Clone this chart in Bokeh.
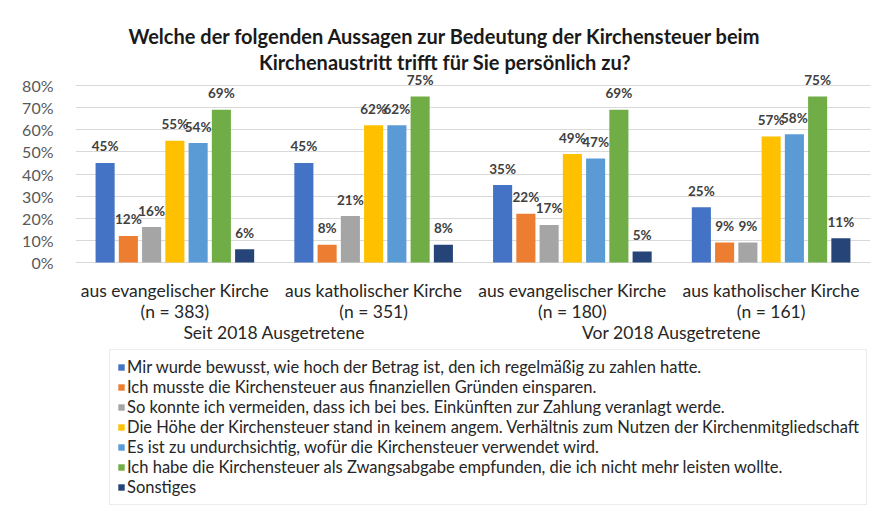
from bokeh.plotting import figure
from bokeh.models import (Range1d, ColumnDataSource, Label, Legend, LegendItem,
                          FixedTicker, PrintfTickFormatter)
from bokeh.core.properties import value
from bokeh.embed import file_html
from bokeh.resources import INLINE

# ---------------- data ----------------
categories = ["aus evangelischer Kirche", "aus katholischer Kirche",
              "aus evangelischer Kirche", "aus katholischer Kirche"]
n_labels = ["(n = 383)", "(n = 351)", "(n = 180)", "(n = 161)"]
groups = ["Seit 2018 Ausgetretene", "Vor 2018 Ausgetretene"]
series_names = [
    "Mir wurde bewusst, wie hoch der Betrag ist, den ich regelmäßig zu zahlen hatte.",
    "Ich musste die Kirchensteuer aus finanziellen Gründen einsparen.",
    "So konnte ich vermeiden, dass ich bei bes. Einkünften zur Zahlung veranlagt werde.",
    "Die Höhe der Kirchensteuer stand in keinem angem. Verhältnis zum Nutzen der Kirchenmitgliedschaft",
    "Es ist zu undurchsichtig, wofür die Kirchensteuer verwendet wird.",
    "Ich habe die Kirchensteuer als Zwangsabgabe empfunden, die ich nicht mehr leisten wollte.",
    "Sonstiges",
]
betrag = [45, 45, 35, 25]
finanziell = [12, 8, 22, 9]
einkuenfte = [16, 21, 17, 9]
verhaeltnis = [55, 62, 49, 57]
undurchsichtig = [54, 62, 47, 58]
zwangsabgabe = [69, 75, 69, 75]
sonstiges = [6, 8, 5, 11]
series_values = [betrag, finanziell, einkuenfte, verhaeltnis,
                 undurchsichtig, zwangsabgabe, sonstiges]
y_ticks = [0, 10, 20, 30, 40, 50, 60, 70, 80]

colors = ["#4472C4", "#ED7D31", "#A5A5A5", "#FFC000", "#5B9BD5", "#70AD47", "#264478"]

FONT = "Lato"

# ---------------- geometry ----------------
W, H = 873, 508
LEFT = 75            # frame left edge (px)
RIGHT = 870          # frame right edge (px)
Y0_PX = 262          # pixel row of 0 %
Y80_PX = 85          # pixel row of 80 %
PPU = (Y0_PX - Y80_PX) / 80.0   # pixels per percent
XPU = (RIGHT - LEFT) / 4.0      # pixels per category

y_start = -(H - Y0_PX) / PPU
y_end = 80 + Y80_PX / PPU

p = figure(width=W, height=H, output_backend="svg", toolbar_location=None,
           x_range=Range1d(0, 4), y_range=Range1d(y_start, y_end),
           min_border_left=LEFT, min_border_right=W - RIGHT, min_border_top=0,
           min_border_bottom=0)
p.outline_line_color = None
p.xaxis.visible = False
p.xgrid.visible = False
p.ygrid.grid_line_color = "#D9D9D9"
p.ygrid.grid_line_width = 1
p.yaxis.ticker = FixedTicker(ticks=y_ticks)
p.yaxis.formatter = PrintfTickFormatter(format="%d%%")
p.yaxis.axis_line_color = None
p.yaxis.major_tick_line_color = None
p.yaxis.minor_tick_line_color = None
p.yaxis.major_label_standoff = 16
p.yaxis.major_label_text_font = FONT
p.yaxis.major_label_text_font_size = "16px"
p.yaxis.major_label_text_color = "#595959"

step = 0.117
bw = 0.096
centers = [i + 0.5 for i in range(len(categories))]

items = []
for k, (vals, col, name) in enumerate(zip(series_values, colors, series_names)):
    xs = [c + (k - 3) * step for c in centers]
    src = ColumnDataSource(dict(x=xs, top=vals, lab=[f"{v}%" for v in vals]))
    r = p.vbar(x="x", top="top", width=bw, source=src, fill_color=col, line_color=None)
    p.text(x="x", y="top", text="lab", source=src, text_align="center",
           text_baseline="middle", y_offset=-16.5, text_font=value(FONT),
           text_font_style="bold", text_font_size="13.5px", text_color="#404040")
    items.append(LegendItem(label=name, renderers=[r]))

# helpers: convert pixel positions to data units
def dx(px):
    return (px - LEFT) / XPU

def dy(py):
    return (Y0_PX - py) / PPU

# title
for txt, py in [("Welche der folgenden Aussagen zur Bedeutung der Kirchensteuer  beim", 35),
                ("Kirchenaustritt  trifft für Sie persönlich zu?", 61)]:
    p.add_layout(Label(x=dx(447), y=dy(py), text=txt, text_align="center",
                       text_baseline="middle", text_font=FONT, text_font_style="bold",
                       text_font_size="20px", text_color="#1a1a1a"))

# category labels
for c, cat, n in zip(centers, categories, n_labels):
    p.add_layout(Label(x=c, y=dy(290), text=cat, text_align="center",
                       text_baseline="middle", text_font=FONT,
                       text_font_size="17.5px", text_color="#262626"))
    p.add_layout(Label(x=c, y=dy(311), text=n, text_align="center",
                       text_baseline="middle", text_font=FONT,
                       text_font_size="17.5px", text_color="#262626"))
for gi, g in enumerate(groups):
    gx = (centers[2 * gi] + centers[2 * gi + 1]) / 2
    p.add_layout(Label(x=gx, y=dy(332), text=g, text_align="center",
                       text_baseline="middle", text_font=FONT,
                       text_font_size="17.5px", text_color="#262626"))

legend = Legend(items=items, location=(109 - LEFT, H - 505), orientation="vertical",
                label_text_font=FONT, label_text_font_size="16.5px",
                label_text_color="#262626", glyph_width=8, glyph_height=8,
                label_standoff=2, label_height=18, spacing=0, padding=7,
                margin=0, border_line_color="#D9D9D9", border_line_width=1,
                background_fill_color="white", background_fill_alpha=1)
p.add_layout(legend, "center")

open("out.html", "w").write(file_html(p, INLINE))
